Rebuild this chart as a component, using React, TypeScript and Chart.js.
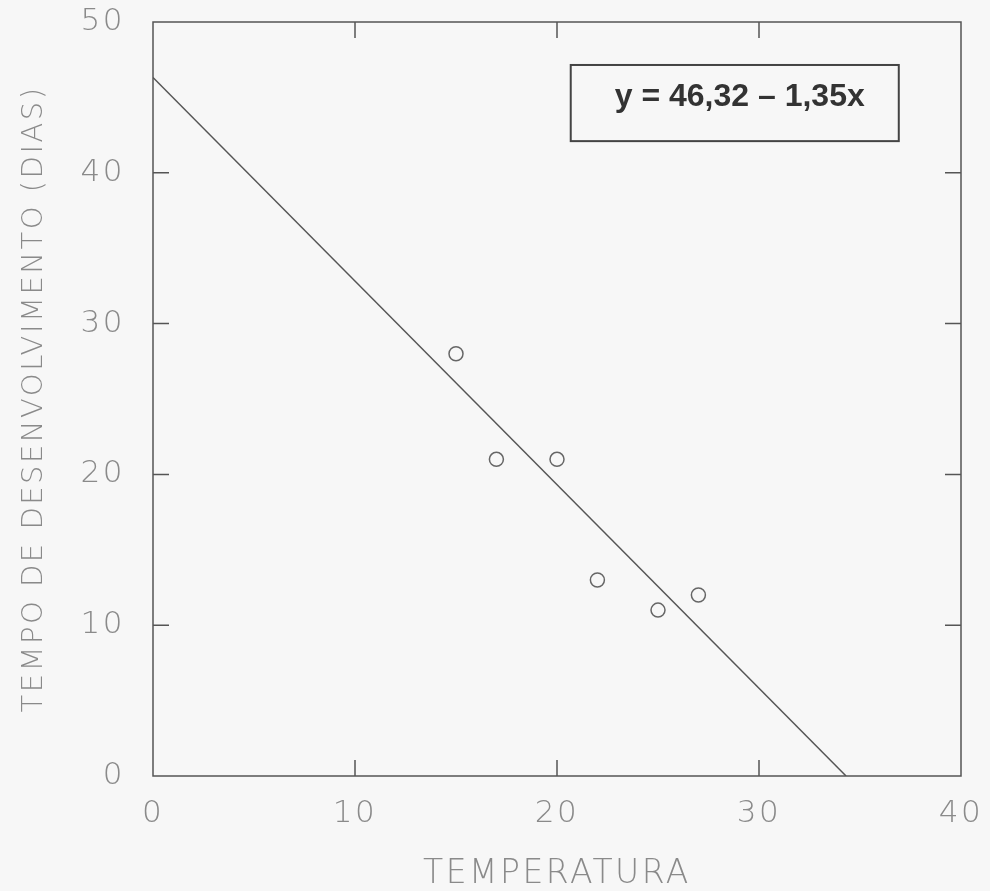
import React, { useEffect, useRef } from "react";
import { Chart, registerables } from "chart.js";

Chart.register(...registerables);

const temperatura = [15, 17, 20, 22, 25, 27];
const tempoDias = [28, 21, 21, 13, 11, 12];
const intercept = 46.32;
const slope = -1.35;
const lineX = [0, 34.31];
const xTicks = [0, 10, 20, 30, 40];
const yTicks = [0, 10, 20, 30, 40, 50];
const equationText = "y = 46,32 \u2013 1,35x";

const framePlugin = {
  id: "frame",
  afterDatasetsDraw(chart: any) {
    const { ctx, chartArea } = chart;
    const { left, right, top, bottom } = chartArea;
    const xs = chart.scales.x;
    const ys = chart.scales.y;
    ctx.save();
    (ctx as any).letterSpacing = "0px";
    ctx.strokeStyle = "#555";
    ctx.lineWidth = 1.5;
    ctx.strokeRect(left, top, right - left, bottom - top);
    const tl = 16;
    ctx.beginPath();
    xTicks.slice(1, -1).forEach((v) => {
      const px = xs.getPixelForValue(v);
      ctx.moveTo(px, bottom);
      ctx.lineTo(px, bottom - tl);
      ctx.moveTo(px, top);
      ctx.lineTo(px, top + tl);
    });
    yTicks.slice(1, -1).forEach((v) => {
      const py = ys.getPixelForValue(v);
      ctx.moveTo(left, py);
      ctx.lineTo(left + tl, py);
      ctx.moveTo(right, py);
      ctx.lineTo(right - tl, py);
    });
    ctx.stroke();

    // equation box
    const w = right - left;
    const h = bottom - top;
    const bx1 = left + 0.517 * w;
    const bx2 = left + 0.923 * w;
    const by1 = top + 0.057 * h;
    const by2 = top + 0.158 * h;
    ctx.lineWidth = 2;
    ctx.strokeStyle = "#444";
    ctx.strokeRect(bx1, by1, bx2 - bx1, by2 - by1);
    ctx.fillStyle = "#333";
    ctx.font = "bold 32px 'Liberation Sans', Arial, sans-serif";
    ctx.textAlign = "center";
    ctx.textBaseline = "alphabetic";
    ctx.fillText(equationText, (bx1 + bx2) / 2 + 5, by1 + 41);
    ctx.restore();
  },
};

const zeroPad = (s: any) => {
  s.paddingTop = 0;
  s.paddingBottom = 0;
  s.paddingLeft = 0;
  s.paddingRight = 0;
};

export default function App() {
  const ref = useRef<HTMLCanvasElement | null>(null);
  useEffect(() => {
    if (!ref.current) return;
    const fam = "'DejaVu Sans', sans-serif";
    const tickFont = { family: fam, size: 31, weight: "200" as any };
    const chart = new Chart(ref.current, {
      type: "scatter",
      data: {
        datasets: [
          {
            label: "pontos",
            data: temperatura.map((t, i) => ({ x: t, y: tempoDias[i] })),
            pointRadius: 7,
            pointBorderWidth: 1.5,
            pointBorderColor: "#666",
            pointBackgroundColor: "rgba(0,0,0,0)",
            showLine: false,
          },
          {
            label: "reta",
            data: lineX.map((x) => ({ x, y: Math.max(0, intercept + slope * x) })),
            showLine: true,
            pointRadius: 0,
            borderColor: "#555",
            borderWidth: 1.5,
          },
        ],
      },
      options: {
        animation: false,
        responsive: false,
        layout: { padding: { top: 22, right: 29, left: 0, bottom: 0 } },
        plugins: { legend: { display: false }, tooltip: { enabled: false } },
        scales: {
          x: {
            type: "linear",
            min: 0,
            max: 40,
            afterFit: (s: any) => {
              s.height = 115;
              zeroPad(s);
            },
            afterBuildTicks: (s: any) => {
              s.ticks = xTicks.map((v) => ({ value: v }));
            },
            grid: { display: false, drawTicks: false },
            border: { display: false },
            ticks: { color: "#8a8a8a", font: tickFont, padding: 19 },
            title: {
              display: true,
              text: "TEMPERATURA",
              color: "#8a8a8a",
              font: { family: fam, size: 33, weight: "200" as any, lineHeight: 1 },
              padding: { top: 0, bottom: 0 },
            },
          },
          y: {
            type: "linear",
            min: 0,
            max: 50,
            afterFit: (s: any) => {
              s.width = 153;
              zeroPad(s);
            },
            afterBuildTicks: (s: any) => {
              s.ticks = yTicks.map((v) => ({ value: v }));
            },
            grid: { display: false, drawTicks: false },
            border: { display: false },
            ticks: { color: "#8a8a8a", font: tickFont, padding: 28 },
            title: {
              display: true,
              text: "TEMPO DE DESENVOLVIMENTO (DIAS)",
              color: "#8a8a8a",
              font: { family: fam, size: 29, weight: "200" as any, lineHeight: 1 },
              padding: { top: 20, bottom: 0 },
            },
          },
        },
      },
      plugins: [
        {
          id: "bg",
          beforeDraw(c: any) {
            const g = c.ctx;
            g.save();
            g.fillStyle = "#f7f7f7";
            g.fillRect(0, 0, c.width, c.height);
            g.restore();
            (g as any).letterSpacing = "2.5px";
          },
        },
        framePlugin,
      ],
    });
    return () => chart.destroy();
  }, []);
  return (
    <div style={{ position: "absolute", left: 0, top: 0, width: 990, height: 891 }}>
      <canvas ref={ref} width={990} height={891} style={{ width: 990, height: 891, display: "block" }} />
    </div>
  );
}
